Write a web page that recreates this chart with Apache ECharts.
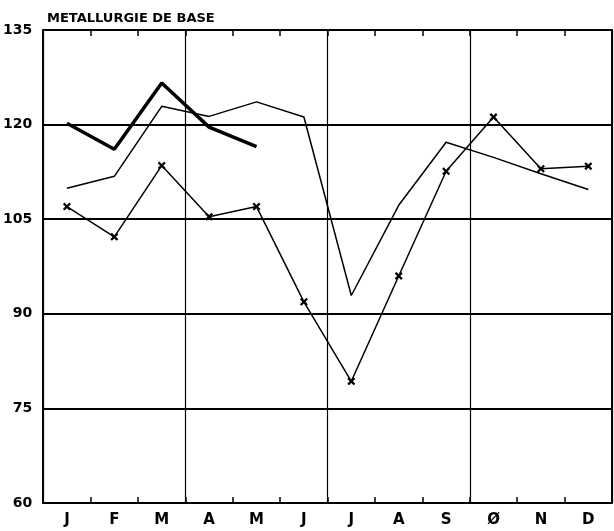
<!DOCTYPE html>
<html>
<head>
<meta charset="utf-8">
<script src="https://cdn.jsdelivr.net/npm/echarts@6/dist/echarts.min.js"></script>
<style>
html,body{margin:0;padding:0;background:#fff;}
#main{width:614px;height:531px;}
</style>
</head>
<body>
<div id="main"></div>
<script>
var months=['J','F','M','A','M','J','J','A','S','Ø','N','D'];
var yTicks=[60,75,90,105,120,135];
// trait épais (janv.-mai)
var thickData=[120.2,116.1,126.6,119.6,116.5,null,null,null,null,null,null,null];
// trait fin sans marque
var thinData=[109.9,111.8,122.9,121.3,123.6,121.2,92.9,107.2,117.2,114.8,112.2,109.7];
// trait fin avec croix
var crossData=[107.0,102.2,113.5,105.4,107.0,91.9,79.3,96.0,112.6,121.2,113.0,113.4];

var crossSym='path://M0,2L2,0L5,3L8,0L10,2L7,5L10,8L8,10L5,7L2,10L0,8L3,5Z';

var myChart=echarts.init(document.getElementById('main'));
var tickStyle={show:true,inside:true,interval:0,length:6,lineStyle:{color:'#000',width:1.5}};
var option={
    backgroundColor:'#fff',
    animation:false,
    title:{
        text:'METALLURGIE DE BASE',
        left:42,
        top:7,
        textStyle:{
            color:'#000',
            fontFamily:'DejaVu Sans',
            fontWeight:'bold',
            fontSize:13
        }
    },
    grid:{left:43,right:2,top:30,bottom:28},
    xAxis:[
        {
            type:'category',
            data:months,
            boundaryGap:true,
            axisLine:{lineStyle:{color:'#000',width:2}},
            axisTick:tickStyle,
            splitLine:{
                show:true,
                interval:function(index){return index%3===0;},
                lineStyle:{color:'#000',width:1.2}
            },
            axisLabel:{
                color:'#000',
                fontFamily:'DejaVu Sans',
                fontWeight:'bold',
                fontSize:15,
                margin:10
            }
        },
        {
            type:'category',
            data:months,
            position:'top',
            boundaryGap:true,
            axisLine:{lineStyle:{color:'#000',width:2}},
            axisTick:tickStyle,
            axisLabel:{show:false},
            splitLine:{show:false}
        }
    ],
    yAxis:[
        {
            type:'value',
            min:60,
            max:135,
            interval:15,
            axisLine:{show:true,lineStyle:{color:'#000',width:2}},
            axisTick:{show:false},
            splitLine:{show:true,lineStyle:{color:'#000',width:2}},
            axisLabel:{
                color:'#000',
                fontFamily:'DejaVu Sans',
                fontWeight:'bold',
                fontSize:14,
                margin:11,
                formatter:function(v){return yTicks.indexOf(v)>=0?String(v):'';}
            }
        },
        {
            type:'value',
            min:60,
            max:135,
            interval:15,
            position:'right',
            axisLine:{show:true,lineStyle:{color:'#000',width:2}},
            axisTick:{show:false},
            axisLabel:{show:false},
            splitLine:{show:false}
        }
    ],
    series:[
        {
            name:'thick',
            type:'line',
            data:thickData,
            symbol:'none',
            lineStyle:{color:'#000',width:3.5},
            z:5
        },
        {
            name:'thin',
            type:'line',
            data:thinData,
            symbol:'none',
            lineStyle:{color:'#000',width:1.5}
        },
        {
            name:'cross',
            type:'line',
            data:crossData,
            symbol:crossSym,
            symbolSize:8,
            showSymbol:true,
            itemStyle:{color:'#000'},
            lineStyle:{color:'#000',width:1.5}
        }
    ]
};
myChart.setOption(option);
</script>
</body>
</html>
